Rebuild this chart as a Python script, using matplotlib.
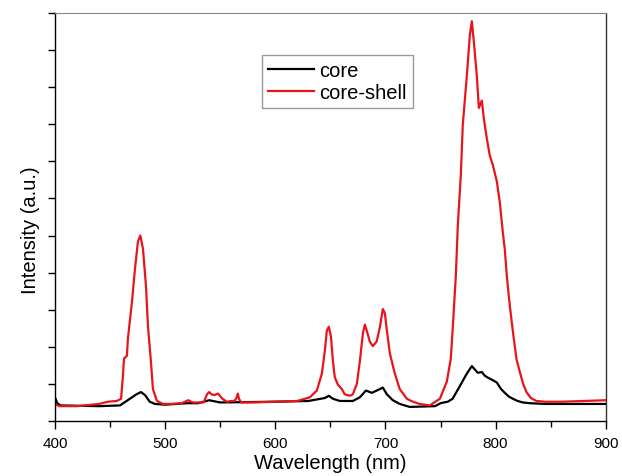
import matplotlib.pyplot as plt
from matplotlib.ticker import MultipleLocator

plt.rcParams['font.family'] = ['Liberation Sans', 'DejaVu Sans']

# emission spectra (intensity in arbitrary units)
wl_core = [400, 402, 405, 440, 459, 468, 474, 478, 481.7, 486, 490.7, 500, 520,
           530, 540, 550, 600, 630, 645, 648.6, 652.3, 658.6, 670.4, 676.8, 682.2,
           687.7, 692, 697.6, 701.3, 706.7, 713, 722, 745, 750, 753, 756.6, 761,
           767.5, 773.9, 778.4, 782, 783.8, 787.5, 790.2, 793.5, 797.5, 801, 805,
           808.3, 812, 815.6, 820, 824.7, 831, 845, 900]
core = [0.82, 0.74, 0.71, 0.70, 0.71, 0.80, 0.86, 0.89, 0.85, 0.76, 0.73, 0.72,
        0.74, 0.74, 0.78, 0.75, 0.76, 0.77, 0.81, 0.84, 0.80, 0.77, 0.77, 0.82,
        0.91, 0.88, 0.91, 0.95, 0.86, 0.78, 0.73, 0.69, 0.70, 0.74, 0.75, 0.76,
        0.80, 0.97, 1.14, 1.24, 1.18, 1.15, 1.16, 1.11, 1.08, 1.05, 1.02, 0.93,
        0.88, 0.83, 0.80, 0.77, 0.75, 0.74, 0.73, 0.73]

wl_shell = [400, 404, 420, 440, 448, 456, 460, 461.7, 462.6, 465.3, 466.2, 469.9,
            472.6, 475.3, 477.5, 479.9, 482.6, 484.4, 487.1, 488.9, 492.6, 498,
            505, 515, 521, 525, 535, 538, 540, 542, 545, 548, 552, 556, 560, 563,
            565, 566, 567, 569, 580, 600, 620, 631.4, 637.7, 642.3, 645, 646.8,
            648.6, 650.5, 652.3, 654, 656.8, 660.4, 663, 667.7, 670.4, 674, 676.8,
            679.5, 681.3, 683, 685.8, 688.5, 692, 695, 697.6, 699.5, 701.3, 704,
            708.5, 713, 719.4, 724.9, 731, 740.3, 749.4, 755.7, 759.3, 761.2, 763.9,
            765.7, 768.4, 770.2, 773.9, 776.6, 778.4, 780.2, 782.9, 784.8, 787.5,
            789.3, 792, 794.7, 797.5, 801.1, 803.8, 806.5, 808.3, 810.2, 812.2,
            814.5, 816.5, 819, 822, 825, 828, 832, 837, 845, 860, 880, 900]
shell = [0.73, 0.70, 0.70, 0.73, 0.76, 0.77, 0.80, 1.11, 1.34, 1.38, 1.61, 2.11,
         2.55, 2.92, 3.00, 2.82, 2.32, 1.78, 1.30, 0.93, 0.77, 0.73,
         0.73, 0.74, 0.78, 0.75, 0.75, 0.86, 0.89, 0.86, 0.85, 0.87, 0.80, 0.76,
         0.77, 0.77, 0.82, 0.87, 0.80, 0.75, 0.75, 0.76, 0.77, 0.82, 0.91, 1.14,
         1.45, 1.72, 1.77, 1.64, 1.31, 1.09, 0.99, 0.93, 0.86, 0.84, 0.86, 1.00,
         1.31, 1.68, 1.80, 1.72, 1.57, 1.51, 1.57, 1.77, 2.01, 1.95, 1.72, 1.41,
         1.14, 0.93, 0.80, 0.76, 0.73, 0.71, 0.80, 1.03, 1.34, 1.78, 2.46,
         3.14, 3.81, 4.49, 5.16, 5.70, 5.89, 5.62, 5.16, 4.72, 4.82,
         4.58, 4.31, 4.08, 3.95, 3.73, 3.45, 3.05, 2.82, 2.45, 2.15,
         1.85, 1.61, 1.33, 1.16, 1.00, 0.89, 0.81, 0.77, 0.76, 0.76, 0.77, 0.78]

fig = plt.figure(figsize=(6.22, 4.77), dpi=100)
ax = fig.add_axes([0.0884, 0.1153, 0.8855, 0.8553])

ax.plot(wl_core, core, color='black', lw=1.6, label='core')
ax.plot(wl_shell, shell, color='#e8141c', lw=1.6, label='core-shell')

ax.set_xlim(400, 900)
ax.set_ylim(0.5, 6.0)
ax.xaxis.set_major_locator(MultipleLocator(100))
ax.xaxis.set_minor_locator(MultipleLocator(50))
ax.yaxis.set_major_locator(MultipleLocator(1))
ax.yaxis.set_minor_locator(MultipleLocator(0.5))
ax.tick_params(which='major', direction='out', length=6, width=1, labelsize=11, pad=5)
ax.tick_params(which='minor', direction='out', length=4, width=1)
ax.tick_params(axis='y', which='both', labelleft=False, length=5)
ax.tick_params(top=False, right=False)

for s in ['left', 'bottom', 'right']:
    ax.spines[s].set_linewidth(1.0)
ax.spines['top'].set_color('#888888')
ax.spines['right'].set_color('#333333')

ax.set_xlabel('Wavelength (nm)', fontsize=14.5, labelpad=2)
ax.set_ylabel('Intensity (a.u.)', fontsize=14.5)
ax.yaxis.set_label_coords(-0.028, 0.47)

leg = ax.legend(loc='upper left', bbox_to_anchor=(0.376, 0.897), borderaxespad=0,
                fontsize=14.5, fancybox=False, edgecolor='#999999', framealpha=1,
                handlelength=2.3, handletextpad=0.25, borderpad=0.3, labelspacing=0.15)
leg.get_frame().set_linewidth(1.0)

fig.savefig('out.png', dpi=100)
